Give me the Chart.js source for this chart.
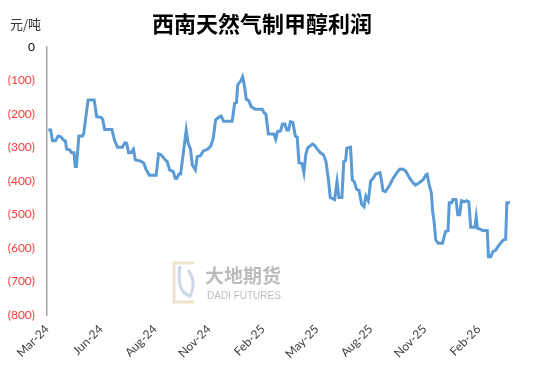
<!DOCTYPE html>
<html><head><meta charset="utf-8">
<script src="https://cdn.jsdelivr.net/npm/chart.js@4/dist/chart.umd.min.js"></script>
<style>html,body{margin:0;padding:0;background:#fff}</style>
</head><body>
<canvas id="c" width="550" height="367"></canvas>
<script>
// ---- data ----
const chartTitle = '西南天然气制甲醇利润';
const unitLabel = '元/吨';
const xLabels = ['Mar-24','Jun-24','Aug-24','Nov-24','Feb-25','May-25','Aug-25','Nov-25','Feb-26'];
const xTickDays = [0,88,176,264,352,440,528,616,704];
const dayOffset = [2,6,9,14,18,23,27,30,32,37,40,44,46,48,52,58,60,67,77,81,88,91,94,106,110,115,123,127,130,133,137,141,144,153,158,161,167,178,182,186,192,
196,200,206,209,212,215,218,227,230,234,237,242,245,250,255,262,267,271,275,280,284,288,302,306,309,311,316,319,322,325,329,333,340,351,354,357,361,370,373,376,381,384,388,
391,394,397,401,405,408,411,416,419,422,425,433,436,441,446,451,455,459,462,469,473,476,481,484,487,489,495,498,501,505,509,513,517,520,524,528,532,536,543,545,548,552,559,565,572,575,580,585,591,596,601,
607,613,618,620,623,627,629,631,634,638,645,647,650,654,656,660,662,667,670,673,676,681,684,688,691,698,700,702,707,710,718,720,724,727,732,736,742,746,748,750,755];
const profit = [-248,-248,-280,-280,-266,-268,-278,-280,-305,-307,-316,-316,-357,-357,-266,-266,-257,-158,-158,-208,-210,-216,-246,-246,-278,-299,-299,-286,-288,-316,-316,-305,-337,-341,-347,-363,-383,-383,-319,-322,-335,
-342,-367,-372,-392,-392,-379,-379,-248,-286,-305,-352,-367,-327,-325,-310,-305,-296,-273,-218,-210,-206,-222,-222,-168,-166,-113,-101,-89,-116,-156,-160,-178,-186,-186,-196,-200,-260,-260,-276,-253,-250,-230,-230,
-248,-248,-223,-225,-266,-269,-345,-348,-375,-322,-302,-290,-293,-305,-316,-322,-342,-397,-449,-455,-402,-449,-449,-342,-339,-302,-299,-397,-402,-425,-428,-469,-477,-445,-459,-399,-392,-379,-375,-392,-429,-432,-412,-390,-372,-365,-364,-370,-390,-403,-412,
-405,-397,-382,-380,-409,-437,-492,-516,-576,-586,-586,-571,-551,-549,-465,-465,-455,-455,-501,-501,-459,-462,-459,-462,-538,-538,-508,-541,-544,-548,-548,-626,-626,-611,-606,-594,-581,-574,-574,-465,-465];

const titlePlugin = {
  id:'titles',
  afterDraw(chart){
    const c = chart.ctx;
    c.save();
    c.fillStyle = '#000';
    c.textBaseline = 'middle';
    c.textAlign = 'center';
    c.font = 'bold 22px "Noto Sans CJK SC"';
    c.fillText(chartTitle, 262, 24);
    c.textAlign = 'left';
    c.fillStyle = '#333';
    c.font = '13px "Noto Sans CJK SC"';
    c.fillText(unitLabel, 10, 24);
    c.restore();
  }
};

const watermarkPlugin = {
  id:'watermark',
  beforeDatasetsDraw(chart){
    const c = chart.ctx;
    c.save();
    c.globalAlpha = 0.45;
    c.lineWidth = 3;
    c.strokeStyle = '#d9c08a';
    c.beginPath();
    c.moveTo(194, 263); c.lineTo(174, 263); c.lineTo(174, 302); c.lineTo(194, 302);
    c.stroke();
    c.strokeStyle = '#8fa7c9';
    c.beginPath();
    c.moveTo(180, 266); c.quadraticCurveTo(176, 292, 190, 296); c.quadraticCurveTo(197, 282, 188, 270);
    c.stroke();
    c.fillStyle = '#6b6b6b';
    c.textBaseline = 'middle';
    c.textAlign = 'left';
    c.font = 'bold 19px "Noto Sans CJK SC"';
    c.fillText('大地期货', 205, 276);
    c.font = '10px "Liberation Sans"';
    c.fillText('DADI FUTURES', 207, 296);
    c.restore();
  }
};

new Chart(document.getElementById('c'), {
  type:'line',
  data:{datasets:[{
    data: dayOffset.map((d,i)=>({x:d, y:profit[i]})),
    borderColor:'#5b9bd5', borderWidth:3, pointRadius:0, tension:0, fill:false
  }]},
  options:{
    responsive:false, animation:false,
    layout:{padding:{left:0, top:47, right:37, bottom:0}},
    plugins:{legend:{display:false}, tooltip:{enabled:false}},
    scales:{
      x:{
        type:'linear', min:0, max:760,
        afterBuildTicks:s=>{ s.ticks = xTickDays.map(v=>({value:v})); },
        afterFit:s=>{ s.height = 52; },
        grid:{display:false, drawTicks:false}, border:{display:false},
        ticks:{autoSkip:false, maxRotation:45, minRotation:45, padding:7, color:'#404040',
          font:{family:'Lato', size:12}, callback:(v,i)=>xLabels[i]}
      },
      y:{
        min:-800, max:0,
        afterFit:s=>{ s.width = 47; },
        grid:{drawOnChartArea:false, drawTicks:false},
        border:{display:true, color:'#a6a6a6', width:1.5},
        ticks:{stepSize:100, padding:12,
          color:c=> (c.tick && c.tick.value===0) ? '#000' : '#ff3b3b',
          font:{family:'Lato', size:12},
          callback:v=> v===0 ? '0' : '(' + Math.abs(v) + ')'}
      }
    }
  },
  plugins:[titlePlugin, watermarkPlugin]
});
</script>
</body></html>
